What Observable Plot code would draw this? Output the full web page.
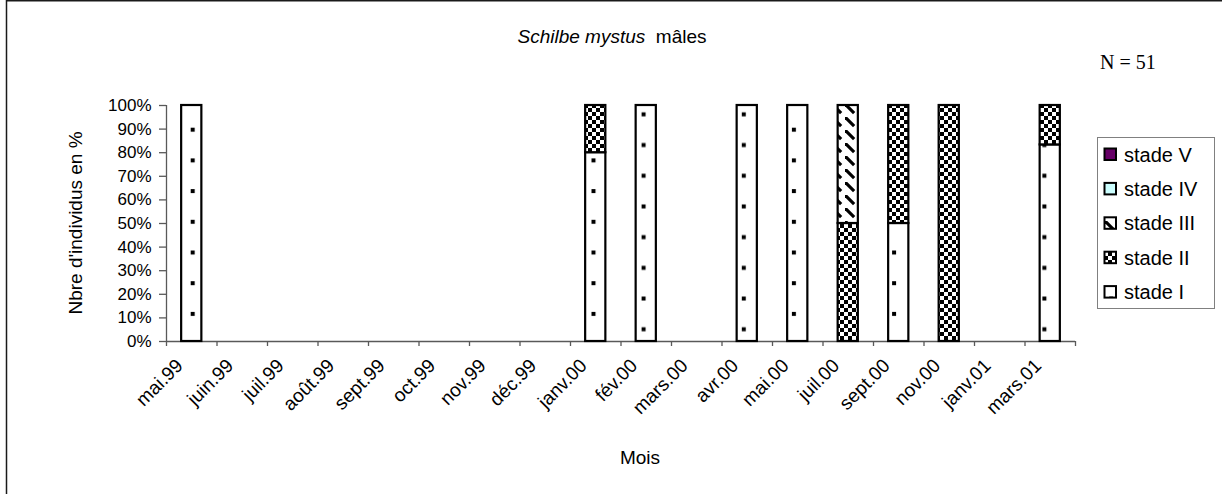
<!DOCTYPE html>
<html>
<head>
<meta charset="utf-8">
<script src="https://cdn.jsdelivr.net/npm/d3@7"></script>
<script src="https://cdn.jsdelivr.net/npm/@observablehq/plot@0.6"></script>
<style>
  body { margin: 0; background: #fff; }
  #chart { position: relative; width: 1222px; height: 494px; overflow: hidden; }
  #chart svg { font-family: "Liberation Sans", Arial, sans-serif; }
</style>
</head>
<body>
<div id="chart"></div>
<script>
// Sampling months (x categories)
const months = ["mai.99", "juin.99", "juil.99", "août.99", "sept.99", "oct.99", "nov.99", "déc.99",
  "janv.00", "fév.00", "mars.00", "avr.00", "mai.00", "juil.00", "sept.00", "nov.00", "janv.01", "mars.01"];

// Maturity stages, bottom to top of each stack
const stades = ["stade I", "stade II", "stade III", "stade IV", "stade V"];

// Percentage of males at each stage, per month
const stadeI   = [100, 0, 0, 0, 0, 0, 0, 0, 80, 100, 0, 100, 100, 0, 50, 0, 0, 83.3];
const stadeII  = [0, 0, 0, 0, 0, 0, 0, 0, 20, 0, 0, 0, 0, 50, 50, 100, 0, 16.7];
const stadeIII = [0, 0, 0, 0, 0, 0, 0, 0, 0, 0, 0, 0, 0, 50, 0, 0, 0, 0];
const stadeIV  = [0, 0, 0, 0, 0, 0, 0, 0, 0, 0, 0, 0, 0, 0, 0, 0, 0, 0];
const stadeV   = [0, 0, 0, 0, 0, 0, 0, 0, 0, 0, 0, 0, 0, 0, 0, 0, 0, 0];

// Y axis ticks (%)
const yTicks = [0, 10, 20, 30, 40, 50, 60, 70, 80, 90, 100];

const title = ["Schilbe mystus", "mâles"];
const sampleSize = "N = 51";

// Fills: hatch patterns for the first three stages, plain colours for the last two
const stageFills = ["url(#pat-stade1)", "url(#pat-stade2)", "url(#pat-stade3)", "#CCFFFF", "#660066"];

const series = [stadeI, stadeII, stadeIII, stadeIV, stadeV];
const rows = [];
months.forEach((m, i) => {
  stades.forEach((s, k) => {
    if (series[k][i] > 0) rows.push({mois: m, stade: s, pct: series[k][i]});
  });
});

const W = 1222, H = 494;
const mLeft = 166, mRight = 147, mTop = 105, mBottom = 153;
const padIn = 0.6, padOut = 0.3;
const step = (W - mLeft - mRight) / (months.length - padIn + 2 * padOut);
const font = "Liberation Sans, Arial, sans-serif";
const axisGrey = "#595959";

const chart = Plot.plot({
  width: W,
  height: H,
  marginLeft: mLeft,
  marginRight: mRight,
  marginTop: mTop,
  marginBottom: mBottom,
  style: {fontFamily: font, background: "transparent", overflow: "visible"},
  x: {domain: months, paddingInner: padIn, paddingOuter: padOut, round: false, axis: null},
  y: {domain: [0, 100], axis: null},
  color: {domain: stades, range: stageFills},
  marks: [
    // axis lines
    Plot.ruleY([0], {stroke: axisGrey, strokeWidth: 1.3}),
    Plot.ruleX([months[0]], {x: d => d, dx: -step / 2, y1: 0, y2: 100, stroke: axisGrey, strokeWidth: 1.3}),
    // category boundary ticks
    Plot.ruleX(months, {x: d => d, dx: -step / 2, y1: 0, y2: 0, insetBottom: -5, stroke: axisGrey, strokeWidth: 1.3}),
    Plot.ruleX([months[months.length - 1]], {x: d => d, dx: step / 2, y1: 0, y2: 0, insetBottom: -5, stroke: axisGrey, strokeWidth: 1.3}),
    Plot.axisY(yTicks, {
      tickSize: 7, tickPadding: 8, tickFormat: d => d + "%", label: null,
      stroke: axisGrey, strokeWidth: 1.3, fill: "#000", fontSize: 17
    }),
    Plot.axisX({
      tickSize: 0, tickRotate: -45, tickPadding: 10, label: null,
      fill: "#000", fontSize: 19, dx: -12, dy: 11
    }),
    Plot.barY(rows, {x: "mois", y: "pct", fill: "stade", stroke: "#000", strokeWidth: 2.2})
  ]
});

document.getElementById("chart").appendChild(chart);
const svg = d3.select(chart);

// Pattern definitions
const defs = svg.insert("defs", ":first-child");
const p1 = defs.append("pattern").attr("id", "pat-stade1").attr("patternUnits", "userSpaceOnUse")
  .attr("x", 190.7).attr("y", 127.7).attr("width", 33.4).attr("height", 30.7);
p1.append("rect").attr("width", 33.4).attr("height", 30.7).attr("fill", "#fff");
p1.append("rect").attr("width", 4).attr("height", 4).attr("fill", "#000");
p1.append("rect").attr("x", 16.7).attr("y", 15.35).attr("width", 4).attr("height", 4).attr("fill", "#000");

const p2 = defs.append("pattern").attr("id", "pat-stade2").attr("patternUnits", "userSpaceOnUse")
  .attr("width", 8).attr("height", 8);
p2.append("rect").attr("width", 8).attr("height", 8).attr("fill", "#fff");
p2.append("rect").attr("width", 4).attr("height", 4).attr("fill", "#000");
p2.append("rect").attr("x", 4).attr("y", 4).attr("width", 4).attr("height", 4).attr("fill", "#000");

const p3 = defs.append("pattern").attr("id", "pat-stade3").attr("patternUnits", "userSpaceOnUse")
  .attr("width", 13).attr("height", 13);
p3.append("rect").attr("width", 13).attr("height", 13).attr("fill", "#fff");
p3.append("path").attr("d", "M0,0L8,8").attr("stroke", "#000").attr("stroke-width", 3.2).attr("stroke-linecap", "square");

// Outer chart-area border
svg.append("path").attr("d", `M6.5,${H + 5}V0.8H${W + 5}`).attr("fill", "none")
  .attr("stroke", "#1a1a1a").attr("stroke-width", 1.5);

// Title
const t = svg.append("text").attr("x", 612).attr("y", 43).attr("text-anchor", "middle")
  .attr("font-size", 19).attr("fill", "#000");
t.append("tspan").attr("font-style", "italic").text(title[0]);
t.append("tspan").text("\u00a0 " + title[1]);

// Sample size
svg.append("text").attr("x", 1100).attr("y", 69).attr("text-anchor", "start")
  .attr("font-family", "Liberation Serif, Times New Roman, serif")
  .attr("font-size", 20).attr("fill", "#000").text(sampleSize);

// Axis titles
svg.append("text").attr("transform", "translate(82,223) rotate(-90)").attr("text-anchor", "middle")
  .attr("font-size", 19).attr("fill", "#000").text("Nbre d'individus en %");
svg.append("text").attr("x", 640).attr("y", 464).attr("text-anchor", "middle")
  .attr("font-size", 19).attr("fill", "#000").text("Mois");

// Legend (top entry = last stage)
const lg = svg.append("g");
lg.append("rect").attr("x", 1097.5).attr("y", 137.5).attr("width", 117).attr("height", 171)
  .attr("fill", "#fff").attr("stroke", "#808080").attr("stroke-width", 1);
stades.slice().reverse().forEach((s, i) => {
  const cy = 154.5 + i * 34.4;
  const k = stades.indexOf(s);
  lg.append("rect").attr("x", 1104.5).attr("y", cy - 6).attr("width", 11.5).attr("height", 11.5)
    .attr("fill", stageFills[k]).attr("stroke", "#000").attr("stroke-width", 2);
  lg.append("text").attr("x", 1124).attr("y", cy + 7).attr("text-anchor", "start")
    .attr("font-size", 20).attr("fill", "#000").text(s);
});
</script>
</body>
</html>
